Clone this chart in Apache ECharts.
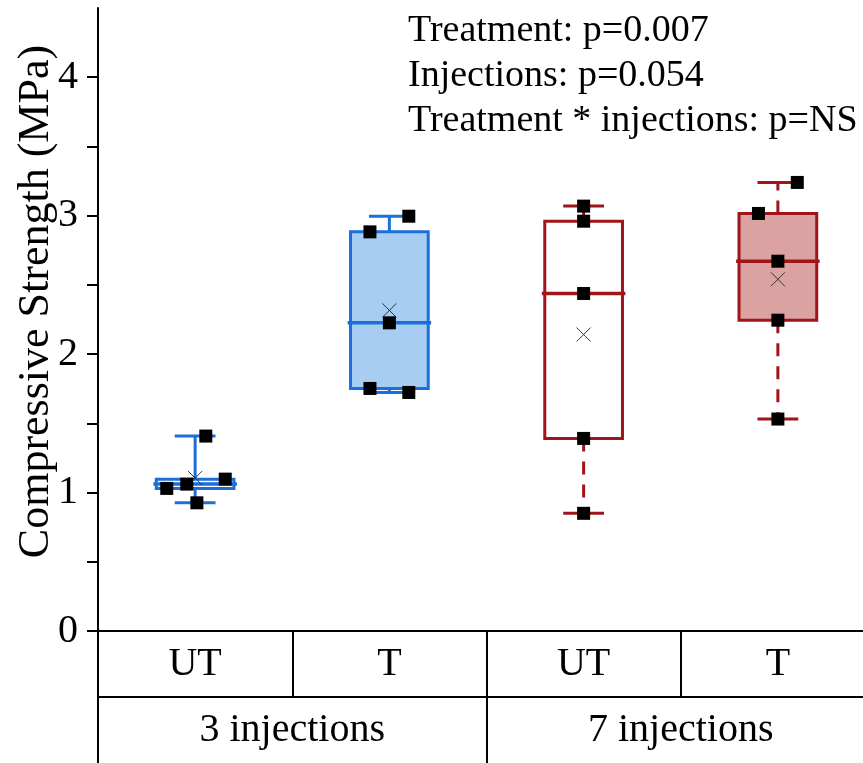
<!DOCTYPE html>
<html>
<head>
<meta charset="utf-8">
<script src="https://cdn.jsdelivr.net/npm/echarts@6/dist/echarts.min.js"></script>
<style>
  html, body { margin: 0; padding: 0; background: #ffffff; }
  #chart { width: 863px; height: 763px; }
</style>
</head>
<body>
<div id="chart"></div>
<script>
// Category labels (two-level x axis)
const treatments = ['UT', 'T', 'UT', 'T'];
const injectionGroups = ['3 injections', '7 injections'];

// Y axis ticks (MPa)
const yLabelTicks = [0, 1, 2, 3, 4];
const yTickMarks = [0, 0.5, 1, 1.5, 2, 2.5, 3, 3.5, 4];

// Compressive strength of each specimen (MPa) and its horizontal jitter (fraction of a category)
const ut3 = [1.030, 1.061, 1.097, 0.926, 1.408];
const ut3Jitter = [-0.146, -0.043, 0.155, 0.009, 0.055];
const t3 = [2.883, 2.996, 2.226, 1.752, 1.723];
const t3Jitter = [-0.10, 0.10, 0, -0.10, 0.10];
const ut7 = [3.069, 2.960, 2.438, 1.391, 0.850];
const ut7Jitter = [0, 0, 0, 0, 0];
const t7 = [3.240, 3.016, 2.671, 2.245, 1.531];
const t7Jitter = [0.10, -0.10, 0, 0, 0];

// Two-way ANOVA results
const statsText = ['Treatment: p=0.007', 'Injections: p=0.054', 'Treatment * injections: p=NS'];

const groupValues = [ut3, t3, ut7, t7];
const groupJitter = [ut3Jitter, t3Jitter, ut7Jitter, t7Jitter];

const FONT = '"Liberation Serif", "Times New Roman", serif';
const BLUE = '#1b6fda';
const RED = '#a0141a';
const boxStyles = [
  { stroke: BLUE, fill: 'rgba(255,255,255,0)', dash: null },
  { stroke: BLUE, fill: '#a8cdf2', dash: null },
  { stroke: RED, fill: 'rgba(255,255,255,0)', dash: [13, 10] },
  { stroke: RED, fill: '#dba2a2', dash: [13, 10] }
];

function median(a) {
  const s = [...a].sort((x, y) => x - y);
  const n = s.length;
  return n % 2 ? s[(n - 1) / 2] : (s[n / 2 - 1] + s[n / 2]) / 2;
}
// Tukey hinges
function hinges(a) {
  const s = [...a].sort((x, y) => x - y);
  const n = s.length;
  const h = Math.ceil(n / 2);
  return [median(s.slice(0, h)), median(s.slice(n - h))];
}

const boxData = groupValues.map((vals, i) => {
  const [q1, q3] = hinges(vals);
  const mean = vals.reduce((a, b) => a + b, 0) / vals.length;
  return [i, Math.min(...vals), q1, median(vals), q3, Math.max(...vals), mean];
});

const pointData = [];
groupValues.forEach((vals, i) => {
  vals.forEach((v, k) => pointData.push([i + groupJitter[i][k], v]));
});

function renderBox(params, api) {
  const i = api.value(0);
  const st = boxStyles[i];
  const mn = api.value(1), q1 = api.value(2), md = api.value(3),
        q3 = api.value(4), mx = api.value(5), mean = api.value(6);
  const cx = api.coord([i, 0])[0];
  const y = v => api.coord([i, v])[1];
  const bw = api.size([0.40, 0])[0];
  const cw = api.size([0.21, 0])[0];
  const mw = api.size([0.43, 0])[0];
  const lw = 3;
  const wStyle = { stroke: st.stroke, lineWidth: lw, lineDash: st.dash };
  const cStyle = { stroke: st.stroke, lineWidth: lw };
  const ym = y(mean), xs = 7;
  return {
    type: 'group',
    children: [
      { type: 'line', shape: { x1: cx, y1: y(q3), x2: cx, y2: y(mx) }, style: wStyle },
      { type: 'line', shape: { x1: cx, y1: y(q1), x2: cx, y2: y(mn) }, style: wStyle },
      { type: 'line', shape: { x1: cx - cw / 2, y1: y(mx), x2: cx + cw / 2, y2: y(mx) }, style: cStyle },
      { type: 'line', shape: { x1: cx - cw / 2, y1: y(mn), x2: cx + cw / 2, y2: y(mn) }, style: cStyle },
      { type: 'rect', shape: { x: cx - bw / 2, y: y(q3), width: bw, height: y(q1) - y(q3) },
        style: { fill: st.fill, stroke: st.stroke, lineWidth: lw } },
      { type: 'line', shape: { x1: cx - mw / 2, y1: y(md), x2: cx + mw / 2, y2: y(md) },
        style: { stroke: st.stroke, lineWidth: 3.5 } },
      { type: 'line', shape: { x1: cx - xs, y1: ym - xs, x2: cx + xs, y2: ym + xs },
        style: { stroke: '#333333', lineWidth: 1 } },
      { type: 'line', shape: { x1: cx - xs, y1: ym + xs, x2: cx + xs, y2: ym - xs },
        style: { stroke: '#333333', lineWidth: 1 } }
    ]
  };
}

const chart = echarts.init(document.getElementById('chart'), null, { renderer: 'canvas' });

const lineBlack = { color: '#000000', width: 2 };
const labelBase = { fontFamily: FONT, fontSize: 40, color: '#000000', lineHeight: 40 };

chart.setOption({
  backgroundColor: '#ffffff',
  animation: false,
  grid: { left: 98, top: 8, width: 777, height: 623, outerBoundsMode: 'none' },
  xAxis: [
    {
      type: 'category', data: treatments, position: 'bottom', boundaryGap: true,
      axisLine: { show: true, onZero: false, lineStyle: lineBlack },
      axisTick: { show: true, length: 66, inside: false, lineStyle: lineBlack },
      axisLabel: Object.assign({ margin: 13, interval: 0 }, labelBase),
      splitLine: { show: false }
    },
    {
      type: 'category', data: injectionGroups, position: 'bottom', offset: 66, boundaryGap: true,
      axisLine: { show: true, onZero: false, lineStyle: lineBlack },
      axisTick: { show: true, length: 66, inside: false, lineStyle: lineBlack },
      axisLabel: Object.assign({ margin: 13, interval: 0 }, labelBase),
      splitLine: { show: false }
    },
    { type: 'value', min: -0.5, max: 3.5, show: false, axisLine: { onZero: false } }
  ],
  yAxis: {
    type: 'value', min: 0, max: 4.5, position: 'left',
    name: 'Compressive Strength (MPa)', nameLocation: 'middle', nameGap: 40, nameRotate: 90,
    nameMoveOverlap: false,
    nameTextStyle: { fontFamily: FONT, fontSize: 44, color: '#000000', padding: [0, 0, 0, 36] },
    axisLine: { show: true, onZero: false, lineStyle: lineBlack },
    axisTick: { show: true, length: 11, inside: false, customValues: yTickMarks, lineStyle: lineBlack },
    axisLabel: Object.assign({ margin: 20, customValues: yLabelTicks }, labelBase),
    splitLine: { show: false }
  },
  series: [
    {
      type: 'custom', name: 'box', xAxisIndex: 2, yAxisIndex: 0,
      data: boxData, renderItem: renderBox,
      encode: { x: 0, y: [1, 2, 3, 4, 5, 6] }, z: 2, silent: true
    },
    {
      type: 'scatter', name: 'specimens', xAxisIndex: 2, yAxisIndex: 0,
      data: pointData, symbol: 'rect', symbolSize: 13,
      itemStyle: { color: '#000000', opacity: 1 }, z: 5, silent: true
    }
  ],
  graphic: statsText.map((t, k) => ({
    type: 'text', left: 408, top: 12 + k * 45,
    style: { text: t, font: '38px ' + FONT, fill: '#000000' }
  }))
});
</script>
</body>
</html>
